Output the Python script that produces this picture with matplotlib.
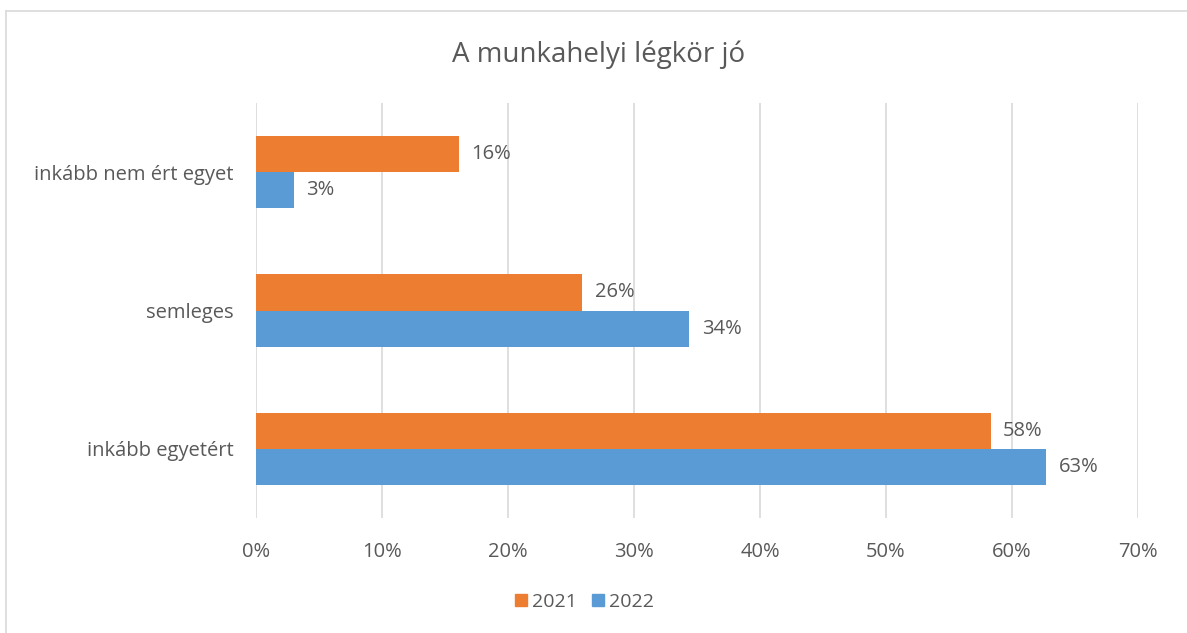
import matplotlib
matplotlib.use('Agg')
import matplotlib.pyplot as plt
from matplotlib.lines import Line2D
import numpy as np

categories = ["inkább nem ért egyet", "semleges", "inkább egyetért"]
vals_2021 = [16.1, 25.9, 58.3]
vals_2022 = [3.0, 34.4, 62.7]
labels_2021 = ["16%", "26%", "58%"]
labels_2022 = ["3%", "34%", "63%"]
xticks = [0, 10, 20, 30, 40, 50, 60, 70]

orange = "#ED7D31"
blue = "#5B9BD5"
txt = "#595959"

plt.rcParams['font.family'] = ['Open Sans', 'DejaVu Sans']

W, H = 1187, 633
fig = plt.figure(figsize=(W / 100, H / 100), dpi=100)
ax = fig.add_axes([256 / W, 1 - 518 / H, (1138 - 256) / W, (518 - 103) / H])

y = np.arange(len(categories))
h = 0.262
ax.barh(y - h / 2, vals_2021, height=h, color=orange, label="2021")
ax.barh(y + h / 2, vals_2022, height=h, color=blue, label="2022")

for yi, v, lab in zip(y - h / 2, vals_2021, labels_2021):
    ax.text(v + 1.0, yi, lab, va="center", ha="left", fontsize=14.5, color=txt)
for yi, v, lab in zip(y + h / 2, vals_2022, labels_2022):
    ax.text(v + 1.0, yi, lab, va="center", ha="left", fontsize=14.5, color=txt)

ax.set_xlim(0, 70)
ax.set_ylim(2.5, -0.5)
ax.set_xticks(xticks)
ax.set_xticklabels([f"{t}%" for t in xticks])
ax.set_yticks(y)
ax.set_yticklabels(categories)
ax.tick_params(axis="both", length=0, labelsize=14.5, colors=txt)
ax.tick_params(axis="x", pad=17)
ax.tick_params(axis="y", pad=16)
ax.xaxis.grid(True, color="#D9D9D9", linewidth=1.2)
ax.set_axisbelow(True)
for s in ax.spines.values():
    s.set_visible(False)

fig.text(599 / W, 1 - 55 / H, "A munkahelyi légkör jó", ha="center", va="center",
         fontsize=20, color=txt)

handles = [Line2D([], [], marker="s", linestyle="", markersize=8, color=orange),
           Line2D([], [], marker="s", linestyle="", markersize=8, color=blue)]
fig.legend(handles, ["2021", "2022"], loc="center", bbox_to_anchor=(583 / W, 1 - 602 / H),
           ncol=2, frameon=False, fontsize=14, labelcolor=txt, handletextpad=0.15,
           columnspacing=0.6, handlelength=0.9)

# outer chart border (left and top edges visible)
fig.add_artist(Line2D([6 / W, 6 / W], [0, 1 - 11 / H], transform=fig.transFigure,
                      color="#D9D9D9", linewidth=1.2))
fig.add_artist(Line2D([6 / W, 1], [1 - 11 / H, 1 - 11 / H], transform=fig.transFigure,
                      color="#D9D9D9", linewidth=1.2))

fig.savefig("out.png", dpi=100)
